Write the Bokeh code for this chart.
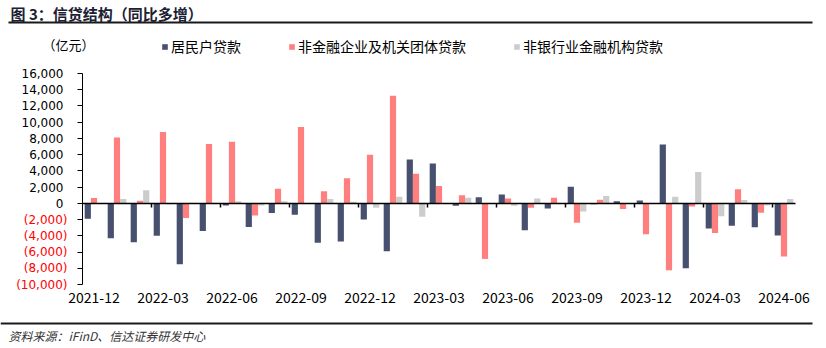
from bokeh.plotting import figure
from bokeh.models import (Range1d, LinearAxis, FixedTicker, Legend, LegendItem,
                          Label, BoxAnnotation, ColumnDataSource)
from bokeh.transform import dodge
from bokeh.embed import file_html
from bokeh.resources import INLINE

months = ["2021-12", "2022-01", "2022-02", "2022-03", "2022-04", "2022-05", "2022-06",
          "2022-07", "2022-08", "2022-09", "2022-10", "2022-11", "2022-12", "2023-01",
          "2023-02", "2023-03", "2023-04", "2023-05", "2023-06", "2023-07", "2023-08",
          "2023-09", "2023-10", "2023-11", "2023-12", "2024-01", "2024-02", "2024-03",
          "2024-04", "2024-05", "2024-06"]
household = [-1900, -4300, -4800, -4000, -7500, -3400, -250, -2900, -1200, -1400, -4850,
             -4700, -2000, -5900, 5400, 4900, -300, 750, 1100, -3300, -650, 2050, -100,
             250, 350, 7250, -8000, -3100, -2750, -2950, -3950]
corporate = [650, 8100, 330, 8800, -1800, 7300, 7600, -1500, 1800, 9400, 1500, 3100, 6000,
             13250, 3650, 2150, 1000, -6850, 600, -550, 700, -2400, 450, -700, -3800,
             -8250, -400, -3650, 1750, -1150, -6550]
nonbank = [0, 550, 1600, -100, 0, 0, 250, -250, 250, 0, 550, 200, -550, 800, -1650, 0,
           700, 50, -300, 600, 0, -1000, 900, 0, 0, 800, 3850, -1600, 400, -250, 550]
series_names = ["居民户贷款", "非金融企业及机关团体贷款", "非银行业金融机构贷款"]
x_tick_labels = ["2021-12", "2022-03", "2022-06", "2022-09", "2022-12", "2023-03",
                 "2023-06", "2023-09", "2023-12", "2024-03", "2024-06"]
y_ticks_pos = [0, 2000, 4000, 6000, 8000, 10000, 12000, 14000, 16000]
y_ticks_neg = [-2000, -4000, -6000, -8000, -10000]
title_text = "图 3：信贷结构（同比多增）"
unit_text = "（亿元）"
source_text = "资料来源：iFinD、信达证券研发中心"

FONT = "Noto Sans CJK SC"
NUMFONT = "DejaVu Sans"
W, H = 826, 348
# chart area in canvas pixels
PL, PR, PT, PB = 82, 795, 73, 284
n = len(months)
ymin, ymax = y_ticks_neg[-1], y_ticks_pos[-1]
xpx = (PR - PL) / n
ypx = (ymax - ymin) / (PB - PT)

idx = list(range(n))
src = ColumnDataSource(dict(x=idx, hh=household, corp=corporate, nb=nonbank))

p = figure(width=W, height=H, title=None,
           x_range=Range1d(-0.5 - PL / xpx, -0.5 + (W - PL) / xpx),
           y_range=Range1d(ymin - (H - PB) * ypx, ymax + PT * ypx),
           x_axis_type=None, y_axis_type=None, toolbar_location=None,
           output_backend="svg",
           min_border_left=0, min_border_right=0, min_border_top=0, min_border_bottom=0)
p.outline_line_color = None
p.background_fill_color = "white"
p.border_fill_color = "white"

bw = 0.27
r1 = p.vbar(x=dodge("x", -bw), top="hh", width=bw, source=src,
            fill_color="#48506f", line_color=None)
r2 = p.vbar(x=dodge("x", 0), top="corp", width=bw, source=src,
            fill_color="#ff7f7f", line_color=None)
r3 = p.vbar(x=dodge("x", bw), top="nb", width=bw, source=src,
            fill_color="#cccccc", line_color=None)

tick_idx = [months.index(l) for l in x_tick_labels]

# zero line axis with ticks between categories
zero_ticks = [i - 0.5 for i in tick_idx[1:]]
ax_zero = LinearAxis(fixed_location=0, bounds=(-0.5, n - 0.5),
                     ticker=FixedTicker(ticks=zero_ticks),
                     major_label_overrides={t: "" for t in zero_ticks},
                     major_tick_in=0, major_tick_out=4, minor_tick_in=0, minor_tick_out=0,
                     axis_line_color="black", axis_line_width=1.5,
                     major_tick_line_color="black", major_tick_line_width=1.5)
p.add_layout(ax_zero, "below")

ax_lab = LinearAxis(fixed_location=ymin, ticker=FixedTicker(ticks=tick_idx),
                    major_label_overrides={i: l for i, l in zip(tick_idx, x_tick_labels)},
                    axis_line_color=None, major_tick_line_color=None,
                    minor_tick_line_color=None, major_tick_in=0, major_tick_out=0,
                    major_label_standoff=7, major_label_text_font_size="14px",
                    major_label_text_font=FONT, major_label_text_color="black")
p.add_layout(ax_lab, "below")

ay_pos = LinearAxis(fixed_location=-0.5, bounds=(ymin, ymax),
                    ticker=FixedTicker(ticks=y_ticks_pos),
                    major_label_overrides={v: f"{v:,}" for v in y_ticks_pos},
                    axis_line_color="black", axis_line_width=1,
                    major_tick_in=0, major_tick_out=5, minor_tick_in=0, minor_tick_out=0,
                    major_tick_line_color="black", major_label_standoff=14,
                    major_label_text_font_size="12px", major_label_text_font=NUMFONT,
                    major_label_text_color="black")
p.add_layout(ay_pos, "left")
ay_neg = LinearAxis(fixed_location=-0.5, bounds=(ymin, ymax),
                    ticker=FixedTicker(ticks=y_ticks_neg),
                    major_label_overrides={v: f"({-v:,})" for v in y_ticks_neg},
                    axis_line_color=None,
                    major_tick_in=0, major_tick_out=5, minor_tick_in=0, minor_tick_out=0,
                    major_tick_line_color="black", major_label_standoff=10,
                    major_label_text_font_size="12px", major_label_text_font=NUMFONT,
                    major_label_text_color="#ff0000")
p.add_layout(ay_neg, "left")

legend = Legend(items=[LegendItem(label=series_names[0], renderers=[r1]),
                       LegendItem(label=series_names[1], renderers=[r2]),
                       LegendItem(label=series_names[2], renderers=[r3])],
                orientation="horizontal", location=(161, H - 56),
                glyph_width=7, glyph_height=7, label_standoff=3, spacing=47,
                padding=0, margin=0, background_fill_alpha=0, border_line_alpha=0,
                label_text_font_size="14px", label_text_font=FONT,
                label_text_color="black")
p.add_layout(legend)

p.add_layout(Label(x=10, y=H - 13, x_units="screen", y_units="screen",
                   text=title_text, text_font=FONT,
                   text_font_size="15px", text_font_style="bold",
                   text_color="#1b2033", text_baseline="middle", text_align="left"))
p.add_layout(BoxAnnotation(left=8, right=812, top=H - 21, bottom=H - 23,
                           left_units="screen", right_units="screen",
                           top_units="screen", bottom_units="screen",
                           fill_color="#1a1a1a", fill_alpha=1, line_color=None))
p.add_layout(Label(x=42, y=H - 44, x_units="screen", y_units="screen",
                   text=unit_text, text_font=FONT, text_font_size="13px",
                   text_color="black", text_baseline="middle", text_align="left"))
p.add_layout(BoxAnnotation(left=0, right=812, top=H - 322, bottom=H - 324,
                           left_units="screen", right_units="screen",
                           top_units="screen", bottom_units="screen",
                           fill_color="#1a1a1a", fill_alpha=1, line_color=None))
p.add_layout(Label(x=8, y=H - 335, x_units="screen", y_units="screen",
                   text=source_text, text_font=FONT,
                   text_font_size="12px", text_font_style="italic",
                   text_color="#333333", text_baseline="middle", text_align="left"))

open("out.html", "w").write(file_html(p, INLINE))
